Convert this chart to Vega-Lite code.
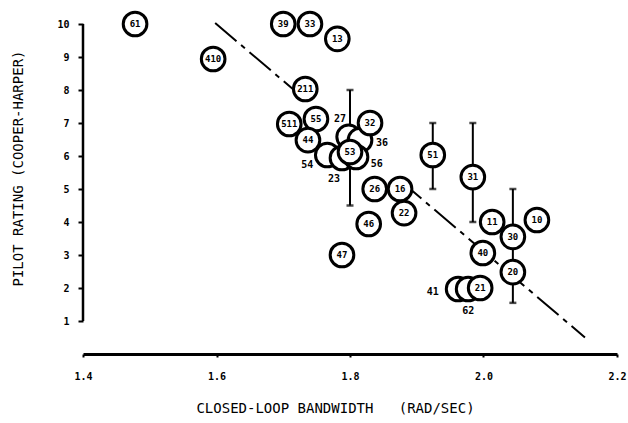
{
  "$schema": "https://vega.github.io/schema/vega-lite/v6.json",
  "width": 534,
  "height": 330,
  "autosize": {"type": "none"},
  "padding": {"left": 83, "top": 24, "right": 11, "bottom": 69},
  "background": "white",
  "config": {"view": {"stroke": null}, "font": "DejaVu Sans Mono"},
  "datasets": {
    "pts": [
      {"id": "61", "x": 1.478, "y": 10.0, "show": true},
      {"id": "410", "x": 1.595, "y": 8.94, "show": true},
      {"id": "39", "x": 1.70, "y": 10.0, "show": true},
      {"id": "33", "x": 1.74, "y": 10.0, "show": true},
      {"id": "13", "x": 1.781, "y": 9.55, "show": true},
      {"id": "211", "x": 1.733, "y": 8.03, "show": true},
      {"id": "55", "x": 1.749, "y": 7.12, "show": true},
      {"id": "511", "x": 1.709, "y": 6.97, "show": true},
      {"id": "44", "x": 1.737, "y": 6.48, "show": true},
      {"id": "27", "x": 1.798, "y": 6.58, "show": false},
      {"id": "36", "x": 1.815, "y": 6.48, "show": false},
      {"id": "32", "x": 1.83, "y": 7.0, "show": true},
      {"id": "54", "x": 1.766, "y": 6.03, "show": false},
      {"id": "23", "x": 1.788, "y": 5.94, "show": false},
      {"id": "56", "x": 1.809, "y": 5.97, "show": false},
      {"id": "53", "x": 1.80, "y": 6.12, "show": true},
      {"id": "51", "x": 1.924, "y": 6.03, "show": true},
      {"id": "26", "x": 1.837, "y": 5.0, "show": true},
      {"id": "16", "x": 1.875, "y": 5.0, "show": true},
      {"id": "22", "x": 1.881, "y": 4.27, "show": true},
      {"id": "46", "x": 1.828, "y": 3.94, "show": true},
      {"id": "47", "x": 1.788, "y": 3.0, "show": true},
      {"id": "31", "x": 1.984, "y": 5.36, "show": true},
      {"id": "40", "x": 1.999, "y": 3.06, "show": true},
      {"id": "11", "x": 2.013, "y": 4.0, "show": true},
      {"id": "10", "x": 2.08, "y": 4.06, "show": true},
      {"id": "20", "x": 2.044, "y": 2.48, "show": true},
      {"id": "30", "x": 2.044, "y": 3.55, "show": true},
      {"id": "41", "x": 1.962, "y": 1.97, "show": false},
      {"id": "62", "x": 1.977, "y": 1.97, "show": false},
      {"id": "21", "x": 1.995, "y": 2.0, "show": true}
    ],
    "bars": [
      {"x": 1.80, "lo": 4.5, "hi": 8.0},
      {"x": 1.924, "lo": 5.0, "hi": 7.0},
      {"x": 1.984, "lo": 4.0, "hi": 7.0},
      {"x": 2.044, "lo": 1.55, "hi": 5.0}
    ],
    "fit": [
      {"seg": "a", "x": 1.598, "y": 10.03},
      {"seg": "a", "x": 1.733, "y": 7.71},
      {"seg": "b", "x": 1.875, "y": 5.26},
      {"seg": "b", "x": 2.152, "y": 0.5}
    ],
    "notes": [
      {"id": "27", "x": 1.785, "y": 7.12},
      {"id": "36", "x": 1.848, "y": 6.39},
      {"id": "54", "x": 1.736, "y": 5.73},
      {"id": "23", "x": 1.776, "y": 5.30},
      {"id": "56", "x": 1.840, "y": 5.76},
      {"id": "41", "x": 1.924, "y": 1.88},
      {"id": "62", "x": 1.977, "y": 1.30}
    ],
    "yaxis": [{"x": 1.4, "y": 1, "y2": 10}]
  },
  "layer": [
    {
      "data": {"name": "fit"},
      "mark": {"type": "line", "color": "black", "strokeWidth": 2, "strokeDash": [28, 6, 5, 6]},
      "encoding": {
        "x": {
          "field": "x", "type": "quantitative",
          "scale": {"domain": [1.4, 2.2], "nice": false, "zero": false},
          "axis": {
            "title": "CLOSED-LOOP BANDWIDTH\u00a0\u00a0\u00a0(RAD/SEC)",
            "values": [1.4, 1.6, 1.8, 2.0, 2.2],
            "tickCount": 20,
            "format": ".1f",
            "grid": false,
            "labelOverlap": false, "labelFlush": false, "labelBound": false,
            "domainColor": "black", "domainWidth": 3,
            "tickColor": "black", "tickWidth": 2, "tickSize": 3,
            "labelFont": "DejaVu Sans Mono", "labelFontWeight": "bold", "labelFontSize": 10, "labelColor": "black",
            "labelPadding": 14, "labelBaseline": "top",
            "titleFont": "DejaVu Sans Mono", "titleFontWeight": "normal", "titleFontSize": 14, "titleColor": "black",
            "titleX": 252, "titleY": 54, "titleAlign": "center", "titleBaseline": "middle", "titleAnchor": null
          }
        },
        "y": {
          "field": "y", "type": "quantitative",
          "scale": {"domain": [0, 10], "nice": false},
          "axis": {
            "title": "PILOT RATING (COOPER-HARPER)",
            "values": [1, 2, 3, 4, 5, 6, 7, 8, 9, 10],
            "tickCount": 20,
            "format": "d",
            "grid": false,
            "domain": false,
            "labelOverlap": false, "labelFlush": false, "labelBound": false,
            "tickColor": "black", "tickWidth": 2, "tickSize": 5,
            "labelFont": "DejaVu Sans Mono", "labelFontWeight": "bold", "labelFontSize": 10, "labelColor": "black",
            "labelPadding": 9,
            "titleFont": "DejaVu Sans Mono", "titleFontWeight": "normal", "titleFontSize": 14, "titleColor": "black",
            "titleX": -65, "titleY": 144, "titleAngle": -90, "titleAlign": "center", "titleBaseline": "middle", "titleAnchor": null
          }
        },
        "detail": {"field": "seg"}
      }
    },
    {
      "data": {"name": "yaxis"},
      "mark": {"type": "rule", "color": "black", "strokeWidth": 2.5},
      "encoding": {
        "x": {"field": "x", "type": "quantitative"},
        "y": {"field": "y", "type": "quantitative"},
        "y2": {"field": "y2"}
      }
    },
    {
      "data": {"name": "bars"},
      "mark": {"type": "rule", "color": "black", "strokeWidth": 2},
      "encoding": {
        "x": {"field": "x", "type": "quantitative"},
        "y": {"field": "lo", "type": "quantitative"},
        "y2": {"field": "hi"}
      }
    },
    {
      "data": {"name": "bars"},
      "mark": {"type": "tick", "orient": "horizontal", "color": "black", "size": 7, "thickness": 2.5},
      "encoding": {
        "x": {"field": "x", "type": "quantitative"},
        "y": {"field": "lo", "type": "quantitative"}
      }
    },
    {
      "data": {"name": "bars"},
      "mark": {"type": "tick", "orient": "horizontal", "color": "black", "size": 7, "thickness": 2.5},
      "encoding": {
        "x": {"field": "x", "type": "quantitative"},
        "y": {"field": "hi", "type": "quantitative"}
      }
    },
    {
      "data": {"name": "pts"},
      "mark": {"type": "point", "shape": "circle", "filled": false, "fill": "white", "fillOpacity": 1, "stroke": "black", "strokeWidth": 3, "size": 560, "opacity": 1},
      "encoding": {
        "x": {"field": "x", "type": "quantitative"},
        "y": {"field": "y", "type": "quantitative"}
      }
    },
    {
      "data": {"name": "pts"},
      "transform": [{"filter": "datum.show"}],
      "mark": {"type": "text", "font": "DejaVu Sans Mono", "fontWeight": "bold", "fontSize": 9, "color": "black", "align": "center", "baseline": "middle"},
      "encoding": {
        "x": {"field": "x", "type": "quantitative"},
        "y": {"field": "y", "type": "quantitative"},
        "text": {"field": "id"}
      }
    },
    {
      "data": {"name": "notes"},
      "mark": {"type": "text", "font": "DejaVu Sans Mono", "fontWeight": "bold", "fontSize": 10, "color": "black", "align": "center", "baseline": "middle"},
      "encoding": {
        "x": {"field": "x", "type": "quantitative"},
        "y": {"field": "y", "type": "quantitative"},
        "text": {"field": "id"}
      }
    }
  ]
}
